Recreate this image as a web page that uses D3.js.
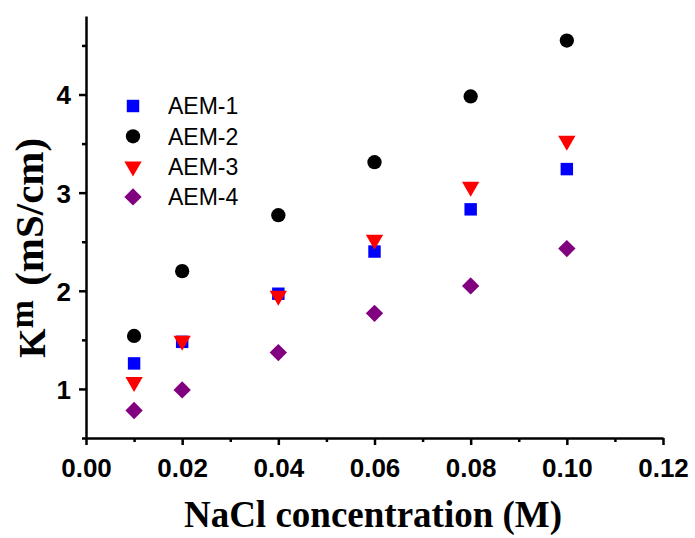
<!DOCTYPE html>
<html>
<head>
<meta charset="utf-8">
<script src="https://cdn.jsdelivr.net/npm/d3@7"></script>
<style>
  body { margin: 0; background: #fff; }
  svg { display: block; }
</style>
</head>
<body>
<div id="chart"></div>
<script>
const concentrations = [0.01, 0.02, 0.04, 0.06, 0.08, 0.10];
const aem1 = [1.26, 1.48, 1.97, 2.40, 2.83, 3.24];
const aem2 = [1.54, 2.20, 2.77, 3.31, 3.98, 4.55];
const aem3 = [1.07, 1.49, 1.95, 2.52, 3.06, 3.53];
const aem4 = [0.78, 0.99, 1.37, 1.77, 2.05, 2.43];
const seriesNames = ["AEM-1", "AEM-2", "AEM-3", "AEM-4"];
const xTicks = [0, 0.02, 0.04, 0.06, 0.08, 0.10, 0.12];
const yTicks = [1, 2, 3, 4];

const width = 695, height = 538;
const margin = {top: 16, right: 32, bottom: 100, left: 86};

const svg = d3.select("#chart")
    .append("svg")
    .attr("width", width)
    .attr("height", height);

const x = d3.scaleLinear().domain([0, 0.12]).range([margin.left, width - margin.right]);
const y = d3.scaleLinear().domain([0.5, 4.8]).range([height - margin.bottom, margin.top]);

const series = [
    {name: seriesNames[0], values: aem1, color: "#0000ff", symbol: d3.symbolSquare, size: 155, rotate: 0},
    {name: seriesNames[1], values: aem2, color: "#000000", symbol: d3.symbolCircle, size: 160, rotate: 0},
    {name: seriesNames[2], values: aem3, color: "#ff0000", symbol: d3.symbolTriangle, size: 130, rotate: 180},
    {name: seriesNames[3], values: aem4, color: "#800080", symbol: d3.symbolSquare, size: 150, rotate: 45}
];

// axes
const xAxis = svg.append("g")
    .attr("transform", `translate(0,${y.range()[0]})`)
    .call(d3.axisBottom(x).tickValues(xTicks).tickFormat(d3.format(".2f")).tickSize(7).tickSizeOuter(0));
svg.append("g")
    .attr("transform", `translate(0,${y.range()[0]})`)
    .call(d3.axisBottom(x).tickValues(d3.range(0.01, 0.12, 0.02)).tickFormat("").tickSize(4).tickSizeOuter(0))
    .call(g => g.select(".domain").remove());

const yAxis = svg.append("g")
    .attr("transform", `translate(${margin.left},0)`)
    .call(d3.axisLeft(y).tickValues(yTicks).tickFormat(d3.format("d")).tickSize(7).tickSizeOuter(0));
svg.append("g")
    .attr("transform", `translate(${margin.left},0)`)
    .call(d3.axisLeft(y).tickValues([0.5, 1.5, 2.5, 3.5, 4.5]).tickFormat("").tickSize(4).tickSizeOuter(0))
    .call(g => g.select(".domain").remove());

svg.selectAll(".domain, .tick line")
    .attr("stroke", "#000")
    .attr("stroke-width", 2.5);

xAxis.selectAll(".tick text")
    .attr("font-family", "Liberation Sans, Arial, sans-serif")
    .attr("font-weight", "bold")
    .attr("font-size", 26)
    .attr("fill", "#000")
    .attr("y", 39)
    .attr("dy", null);

yAxis.selectAll(".tick text")
    .attr("font-family", "Liberation Sans, Arial, sans-serif")
    .attr("font-weight", "bold")
    .attr("font-size", 26)
    .attr("fill", "#000")
    .attr("x", -15)
    .attr("dy", "0.36em");

// points
series.forEach(s => {
    svg.append("g")
        .selectAll("path")
        .data(s.values)
        .join("path")
        .attr("d", d3.symbol().type(s.symbol).size(s.size))
        .attr("transform", (d, i) => `translate(${x(concentrations[i])},${y(d)}) rotate(${s.rotate})`)
        .attr("fill", s.color);
});

// legend
const legend = svg.append("g").attr("transform", "translate(133,106)");
series.forEach((s, i) => {
    const row = legend.append("g").attr("transform", `translate(0,${i * 30.3})`);
    row.append("path")
        .attr("d", d3.symbol().type(s.symbol).size(s.size))
        .attr("transform", `rotate(${s.rotate})`)
        .attr("fill", s.color);
    row.append("text")
        .attr("x", 35)
        .attr("y", 0)
        .attr("dy", "0.36em")
        .attr("font-family", "Liberation Sans, Arial, sans-serif")
        .attr("font-size", 23)
        .attr("fill", "#000")
        .text(s.name);
});

// axis titles
svg.append("text")
    .attr("x", 373)
    .attr("y", 527)
    .attr("text-anchor", "middle")
    .attr("font-family", "Liberation Serif, Times New Roman, serif")
    .attr("font-weight", "bold")
    .attr("font-size", 37)
    .text("NaCl concentration (M)");

const yTitle = svg.append("text")
    .attr("transform", "translate(45,358) rotate(-90)")
    .attr("text-anchor", "start")
    .attr("font-family", "Liberation Serif, Times New Roman, serif")
    .attr("font-weight", "bold")
    .attr("font-size", 38);
yTitle.append("tspan").text("K");
yTitle.append("tspan").attr("dy", -12).attr("font-size", 34).text("m");
yTitle.append("tspan").attr("dy", 10).attr("dx", 4).attr("font-size", 41).text(" (mS/cm)");
</script>
</body>
</html>
